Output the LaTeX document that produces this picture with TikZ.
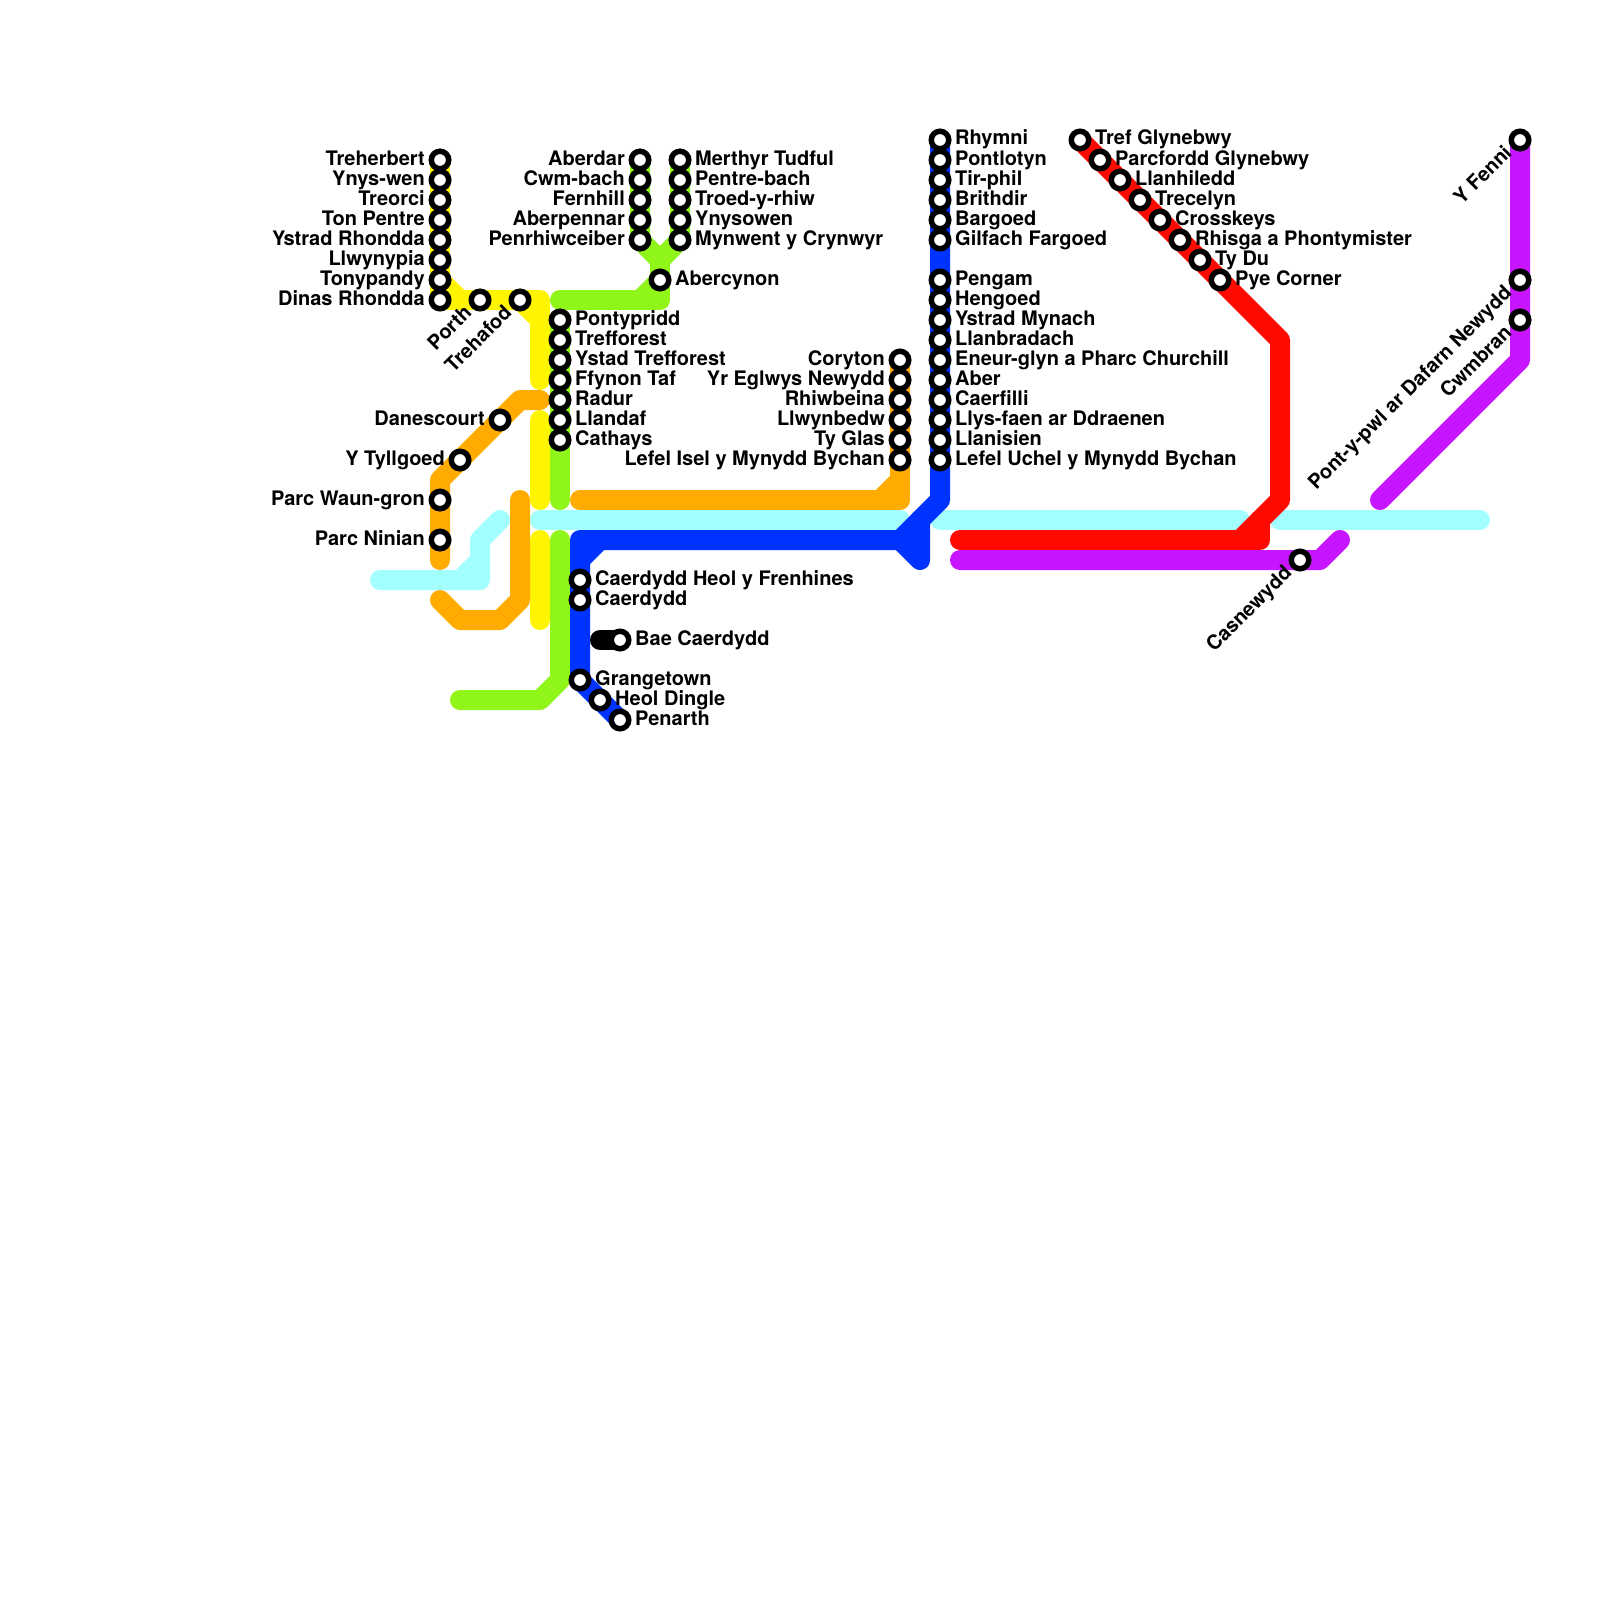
\documentclass[tikz,border=0pt]{standalone}
\usepackage{fontspec}
\setmainfont{TeX Gyre Heros}
\usetikzlibrary{backgrounds}
\definecolor{lyellow}{HTML}{FFF500}
\definecolor{lgreen}{HTML}{90F518}
\definecolor{lorange}{HTML}{FFAB00}
\definecolor{lcyan}{HTML}{A3FFFF}
\definecolor{lblue}{HTML}{0033FF}
\definecolor{lred}{HTML}{FF0A00}
\definecolor{lpurple}{HTML}{C815FF}
\tikzset{
  stn/.style={circle,draw=black,fill=white,line width=5.5pt,minimum size=17.5pt,inner sep=0pt},
  txt/.style={inner sep=0pt,font=\fontsize{20}{20}\selectfont\bfseries,text=black},
  lblR/.style={txt,anchor=base west,xshift=15pt,yshift=-5pt},
  lblL/.style={txt,anchor=base east,xshift=-15pt,yshift=-5pt},
  lblA/.style={txt,anchor=base east,rotate=45},
  tube/.style={line width=20pt,line cap=round,line join=round}
}
\newcommand\StnR[4]{\node[stn] (#1) at (#2,#3) {}; \node[lblR] (#1-t) at (#1.center) {#4};}
\newcommand\StnL[4]{\node[stn] (#1) at (#2,#3) {}; \node[lblL] (#1-t) at (#1.center) {#4};}
\newcommand\StnA[4]{\node[stn] (#1) at (#2,#3) {}; \node[lblA] (#1-t) at ([shift={(-7,14)}]#1.center) {#4};}
\begin{document}
\begin{tikzpicture}[x=1pt,y=-1pt]
\useasboundingbox (0,0) rectangle (1600,1600);
% Rhondda
\StnL{tre}{440}{160}{Treherbert}
\StnL{yny}{440}{180}{Ynys-wen}
\StnL{trc}{440}{200}{Treorci}
\StnL{ton}{440}{220}{Ton Pentre}
\StnL{yrh}{440}{240}{Y\kern-2pt strad Rhondda}
\StnL{llw}{440}{260}{Llwynypia}
\StnL{tpy}{440}{280}{Tonypandy}
\StnL{din}{440}{300}{Dinas Rhondda}
\StnA{por}{480}{300}{Porth}
\StnA{trh}{520}{300}{Trehafod}
% Aberdare and Merthyr
\StnL{abd}{640}{160}{Aberdar}
\StnL{cwm}{640}{180}{Cwm-bach}
\StnL{fer}{640}{200}{Fernhill}
\StnL{abp}{640}{220}{Aberpennar}
\StnL{pen}{640}{240}{Penrhiwceiber}
\StnR{mer}{680}{160}{Merthyr Tudful}
\StnR{pbc}{680}{180}{Pentre-bach}
\StnR{tyr}{680}{200}{Troed-y-rhiw}
\StnR{yns}{680}{220}{Ynysowen}
\StnR{myn}{680}{240}{Mynwent y Crynwyr}
\StnR{abc}{660}{280}{Abercynon}
% Trunk
\StnR{pon}{560}{320}{Pontypridd}
\StnR{tff}{560}{340}{Trefforest}
\StnR{ytf}{560}{360}{Y\kern-1pt stad Trefforest}
\StnR{ffy}{560}{380}{Ffynon Taf}
\StnR{rad}{560}{400}{Radur}
\StnR{lld}{560}{420}{Llandaf}
\StnR{cat}{560}{440}{Cathays}
% City line
\StnL{dan}{500}{420}{Danescourt}
\StnL{tyl}{460}{460}{Y Tyllgoed}
\StnL{pwg}{440}{500}{Parc Waun-gron}
\StnL{pni}{440}{540}{Parc Ninian}
% Central and south
\StnR{chf}{580}{580}{Caerdydd Heol y Frenhines}
\StnR{cdf}{580}{600}{Caerdydd}
\StnR{bae}{620}{640}{Bae Caerdydd}
\StnR{gra}{580}{680}{Grangetown}
\StnR{hdi}{600}{700}{Heol Dingle}
\StnR{pnt}{620}{720}{Penarth}
% Coryton
\StnL{cor}{900}{360}{Coryton}
\StnL{yeg}{900}{380}{Yr Eglwys Newydd}
\StnL{rhi}{900}{400}{Rhiwbeina}
\StnL{lly}{900}{420}{Llwynbedw}
\StnL{tgl}{900}{440}{Ty Glas}
\StnL{lis}{900}{460}{Lefel Isel y Mynydd Bychan}
% Rhymney
\StnR{rhy}{940}{140}{Rhymni}
\StnR{plo}{940}{160}{Pontlotyn}
\StnR{tir}{940}{180}{Tir-phil}
\StnR{bri}{940}{200}{Brithdir}
\StnR{bar}{940}{220}{Bargoed}
\StnR{gil}{940}{240}{Gilfach Fargoed}
\StnR{peg}{940}{280}{Pengam}
\StnR{hen}{940}{300}{Hengoed}
\StnR{yst}{940}{320}{Y\kern-2pt strad Mynach}
\StnR{lbr}{940}{340}{Llanbradach}
\StnR{ene}{940}{360}{Eneur-glyn a Pharc Churchill}
\StnR{abr}{940}{380}{Aber}
\StnR{cae}{940}{400}{Caerfilli}
\StnR{lyf}{940}{420}{Llys-faen ar Ddraenen}
\StnR{lni}{940}{440}{Llanisien}
\StnR{luc}{940}{460}{Lefel Uchel y Mynydd Bychan}
% Ebbw Vale
\StnR{tgy}{1080}{140}{Tref Glynebwy}
\StnR{pgl}{1100}{160}{Parcfordd Glynebwy}
\StnR{lhi}{1120}{180}{Llanhiledd}
\StnR{tcl}{1140}{200}{Trecelyn}
\StnR{crk}{1160}{220}{Crosskeys}
\StnR{rhs}{1180}{240}{Rhisga a Phontymister}
\StnR{tdu}{1200}{260}{Ty Du}
\StnR{pye}{1220}{280}{Pye Corner}
% Marches
\StnA{yfe}{1520}{140}{Y Fenni}
\StnA{ppl}{1520}{280}{Pont-y-pwl ar Dafarn Newydd}
\StnA{cwb}{1520}{320}{Cwmbran}
\StnA{cas}{1300}{560}{Casnewydd}
% Waypoints
\coordinate (c1a) at (380,580); \coordinate (c1b) at (480,580); \coordinate (c1c) at (480,540);
\coordinate (c1d) at (500,520); \coordinate (c1e) at (460,580); \coordinate (c1f) at (480,560);
\coordinate (c2a) at (540,520); \coordinate (c2b) at (900,520);
\coordinate (c3a) at (940,520); \coordinate (c3b) at (1240,520);
\coordinate (c4a) at (1280,520); \coordinate (c4b) at (1480,520);
\coordinate (y1) at (440,280); \coordinate (y2) at (460,300); \coordinate (y3) at (540,300);
\coordinate (y4) at (540,380); \coordinate (y5) at (540,320);
\coordinate (y6) at (540,420); \coordinate (y7) at (540,500);
\coordinate (y8) at (540,540); \coordinate (y9) at (540,620);
\coordinate (g1) at (660,260); \coordinate (g2) at (660,300); \coordinate (g3) at (560,300);
\coordinate (g4) at (640,300); \coordinate (g5) at (560,500);
\coordinate (g6) at (560,540); \coordinate (g7) at (560,680); \coordinate (g8) at (540,700); \coordinate (g9) at (460,700);
\coordinate (o1) at (540,400); \coordinate (o2) at (520,400); \coordinate (o3) at (440,480); \coordinate (o4) at (440,560);
\coordinate (o5) at (440,600); \coordinate (o6) at (460,620); \coordinate (o7) at (500,620); \coordinate (o8) at (520,600); \coordinate (o9) at (520,500);
\coordinate (o10) at (580,500); \coordinate (o11) at (900,500); \coordinate (o12) at (880,500); \coordinate (o13) at (900,480);
\coordinate (b1) at (940,500); \coordinate (b2) at (900,540); \coordinate (b3) at (580,540); \coordinate (b4) at (600,540); \coordinate (b5) at (580,560);
\coordinate (b6) at (920,560); \coordinate (b7) at (920,520);
\coordinate (r1) at (1280,340); \coordinate (r2) at (1280,500); \coordinate (r3) at (1240,540); \coordinate (r4) at (960,540); \coordinate (r5) at (1260,540); \coordinate (r6) at (1260,520);
\coordinate (p1) at (960,560); \coordinate (p2) at (1320,560); \coordinate (p3) at (1340,540);
\coordinate (p4) at (1520,360); \coordinate (p5) at (1380,500);
\coordinate (k1) at (600,640);
\begin{scope}[on background layer]
\fill[white] (0,0) rectangle (1600,1600);
\draw[tube,lcyan] (c1a) -- (c1b) -- (c1c) -- (c1d);
\draw[tube,lcyan] (c1e) -- (c1f);
\draw[tube,lcyan] (c2a) -- (c2b);
\draw[tube,lcyan] (c3a) -- (c3b);
\draw[tube,lcyan] (c4a) -- (c4b);
\draw[tube,lgreen] (abd.center) -- (pen.center) -- (g1) -- (myn.center) -- (mer.center);
\draw[tube,lgreen] (g1) -- (g2) -- (g3);
\draw[tube,lgreen] (pon.center) -- (g5);
\draw[tube,lgreen] (abc.center) -- (g4);
\draw[tube,lgreen] (g6) -- (g7) -- (g8) -- (g9);
\draw[tube,lyellow] (tre.center) -- (din.center) -- (y3) -- (y4);
\draw[tube,lyellow] (y1) -- (y2);
\draw[tube,lyellow] (trh.center) -- (y5);
\draw[tube,lyellow] (y6) -- (y7);
\draw[tube,lyellow] (y8) -- (y9);
\draw[tube,lorange] (o1) -- (o2) -- (o3) -- (o4);
\draw[tube,lorange] (o5) -- (o6) -- (o7) -- (o8) -- (o9);
\draw[tube,lorange] (o10) -- (o11) -- (cor.center);
\draw[tube,lorange] (o12) -- (o13);
\draw[tube,lblue] (rhy.center) -- (b1) -- (b2) -- (b3) -- (gra.center) -- (pnt.center);
\draw[tube,lblue] (b4) -- (b5);
\draw[tube,lblue] (b2) -- (b6) -- (b7);
\draw[tube,lred] (tgy.center) -- (r1) -- (r2) -- (r3) -- (r4);
\draw[tube,lred] (r3) -- (r5) -- (r6);
\draw[tube,lpurple] (p1) -- (p2) -- (p3);
\draw[tube,lpurple] (yfe.center) -- (p4) -- (p5);
\draw[tube,black] (k1) -- (bae.center);
\end{scope}
\end{tikzpicture}
\end{document}
